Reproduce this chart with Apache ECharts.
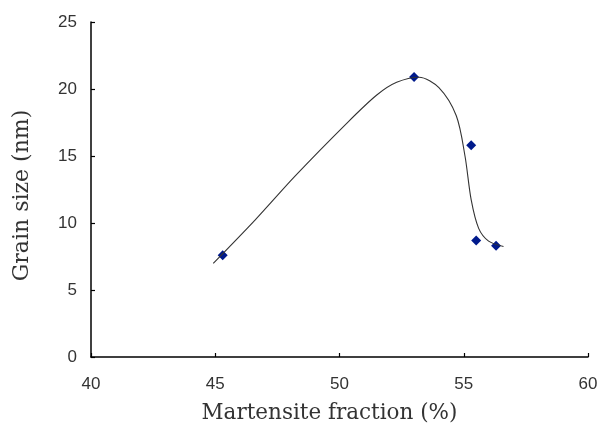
<!DOCTYPE html>
<html><head><meta charset="utf-8">
<script src="https://cdn.jsdelivr.net/npm/echarts@6/dist/echarts.min.js"></script>
<style>html,body{margin:0;padding:0;background:#fff}#c{width:597px;height:427px}</style>
</head><body><div id="c"></div>
<script>
// measured points
const martensite = [45.3, 53.0, 55.3, 55.5, 56.3];
const grainSize = [7.6, 20.9, 15.8, 8.7, 8.3];
// hand-drawn smooth trend curve
const curveX = [44.92, 46.60, 48.21, 50.29, 51.50, 52.30, 53.20, 54.00, 54.70, 55.05, 55.30, 55.60, 56.00, 56.60];
const curveY = [6.99, 10.22, 13.50, 17.44, 19.55, 20.50, 20.88, 20.10, 18.00, 15.00, 11.72, 9.60, 8.65, 8.25];
const xTicks = [40, 45, 50, 55, 60];
const yTicks = [0, 5, 10, 15, 20, 25];

const chart = echarts.init(document.getElementById('c'));
const axisCommon = {
  axisLine: {show: true, lineStyle: {color: '#000', width: 1.5}},
  axisTick: {show: true, inside: true, length: 4, lineStyle: {color: '#000', width: 1.2}},
  splitLine: {show: false},
  axisLabel: {color: '#333', fontFamily: 'Liberation Sans', fontSize: 17},
  nameLocation: 'middle'
};
chart.setOption({
  animation: false,
  grid: {left: 91, right: 9, top: 22, bottom: 70, containLabel: false, outerBoundsMode: 'none'},
  xAxis: Object.assign({}, axisCommon, {
    type: 'value', min: xTicks[0], max: xTicks[xTicks.length-1], interval: 5,
    name: 'Martensite fraction (%)', nameGap: 45,
    nameTextStyle: {fontFamily: 'DejaVu Serif', fontSize: 21.5, color: '#333', padding: [0, 20, 0, 0]},
    axisLabel: Object.assign({}, axisCommon.axisLabel, {margin: 19})
  }),
  yAxis: Object.assign({}, axisCommon, {
    type: 'value', min: yTicks[0], max: yTicks[yTicks.length-1], interval: 5,
    name: 'Grain size (nm)', nameGap: 58,
    nameTextStyle: {fontFamily: 'DejaVu Serif', fontSize: 22, color: '#333', padding: [0, 12, 0, 0]},
    axisLabel: Object.assign({}, axisCommon.axisLabel, {margin: 14})
  }),
  series: [
    {
      type: 'line', smooth: 0.3, showSymbol: false, silent: true,
      data: curveX.map((x, i) => [x, curveY[i]]),
      lineStyle: {color: '#333', width: 1.1}
    },
    {
      type: 'scatter', symbol: 'diamond', symbolSize: 10,
      data: martensite.map((x, i) => [x, grainSize[i]]),
      itemStyle: {color: '#001a8c', opacity: 1}
    }
  ]
});
</script></body></html>
